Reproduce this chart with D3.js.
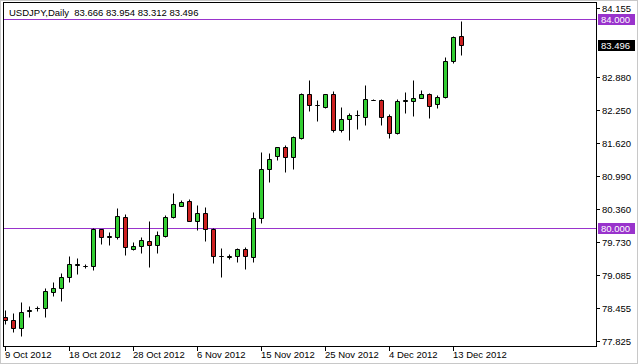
<!DOCTYPE html>
<html>
<head>
<meta charset="utf-8">
<script src="https://cdn.jsdelivr.net/npm/d3@7"></script>
<style>
  body { margin: 0; background: #ffffff; }
  svg { display: block; }
  text { font-family: 'Liberation Sans', Arial, sans-serif; font-size: 9.5px; }
</style>
</head>
<body>
<svg class="chartSvg"></svg>
<script>
let symbol = 'USDJPY,Daily';

let dates = [
  '9 Oct 2012', '10 Oct 2012', '11 Oct 2012', '12 Oct 2012', '14 Oct 2012', '15 Oct 2012', '16 Oct 2012', '17 Oct 2012',
  '18 Oct 2012', '19 Oct 2012', '21 Oct 2012', '22 Oct 2012', '23 Oct 2012', '24 Oct 2012', '25 Oct 2012', '26 Oct 2012',
  '28 Oct 2012', '29 Oct 2012', '30 Oct 2012', '31 Oct 2012', '1 Nov 2012', '2 Nov 2012', '4 Nov 2012', '5 Nov 2012',
  '6 Nov 2012', '7 Nov 2012', '8 Nov 2012', '9 Nov 2012', '11 Nov 2012', '12 Nov 2012', '13 Nov 2012', '14 Nov 2012',
  '15 Nov 2012', '16 Nov 2012', '18 Nov 2012', '19 Nov 2012', '20 Nov 2012', '21 Nov 2012', '22 Nov 2012', '23 Nov 2012',
  '25 Nov 2012', '26 Nov 2012', '27 Nov 2012', '28 Nov 2012', '29 Nov 2012', '30 Nov 2012', '2 Dec 2012', '3 Dec 2012',
  '4 Dec 2012', '5 Dec 2012', '6 Dec 2012', '7 Dec 2012', '9 Dec 2012', '10 Dec 2012', '11 Dec 2012', '12 Dec 2012',
  '13 Dec 2012', '14 Dec 2012'
];

let open = [
  78.289, 78.222, 78.069, 78.398, 78.452, 78.456, 78.774, 78.839, 79.050, 79.291,
  79.261, 79.257, 79.969, 79.835, 79.828, 80.195, 79.586, 79.644, 79.751, 79.659,
  79.847, 80.199, 80.416, 80.512, 80.134, 80.276, 79.975, 79.464, 79.444, 79.458,
  79.586, 79.429, 80.180, 81.119, 81.374, 81.540, 81.349, 81.713, 82.556, 82.356,
  82.318, 82.556, 81.862, 82.077, 82.153, 82.111, 82.441, 82.446, 82.134, 81.820,
  82.427, 82.433, 82.490, 82.556, 82.364, 82.510, 83.199, 83.666
];
let high = [
  78.423, 78.360, 78.571, 78.500, 78.490, 78.851, 78.954, 79.126, 79.458, 79.423,
  79.305, 79.985, 79.981, 79.923, 80.377, 80.253, 79.726, 79.828, 80.128, 79.937,
  80.243, 80.671, 80.531, 80.544, 80.429, 80.397, 79.985, 79.605, 79.492, 79.605,
  79.625, 80.291, 81.456, 81.437, 81.546, 81.579, 81.757, 82.575, 82.830, 82.446,
  82.567, 82.619, 82.312, 82.197, 82.255, 82.734, 82.456, 82.460, 82.178, 82.460,
  82.605, 82.830, 82.638, 82.575, 82.542, 83.276, 83.672, 83.954
];
let low = [
  78.155, 78.008, 77.931, 78.295, 78.395, 78.295, 78.697, 78.602, 78.966, 79.119,
  79.222, 79.190, 79.688, 79.669, 79.784, 79.477, 79.579, 79.510, 79.253, 79.510,
  79.816, 80.180, 80.410, 80.128, 79.956, 79.745, 79.314, 79.061, 79.397, 79.333,
  79.203, 79.343, 80.096, 80.881, 81.297, 81.073, 81.119, 81.694, 82.241, 82.050,
  82.287, 81.839, 81.833, 81.671, 81.897, 81.967, 82.437, 81.967, 81.713, 81.795,
  82.192, 82.140, 82.485, 82.096, 82.287, 82.479, 83.161, 83.312
];
let close = [
  78.222, 78.069, 78.391, 78.418, 78.462, 78.787, 78.839, 79.050, 79.299, 79.305,
  79.266, 79.969, 79.816, 79.822, 80.218, 79.621, 79.644, 79.759, 79.659, 79.851,
  80.199, 80.448, 80.487, 80.134, 80.276, 79.969, 79.464, 79.452, 79.448, 79.586,
  79.458, 80.180, 81.119, 81.310, 81.540, 81.349, 81.732, 82.556, 82.351, 82.345,
  82.556, 81.866, 82.077, 82.159, 82.165, 82.460, 82.450, 82.126, 81.820, 82.427,
  82.441, 82.479, 82.556, 82.337, 82.510, 83.199, 83.650, 83.496
];

let priceTicks = [84.155, 82.880, 82.250, 81.620, 80.990, 80.360, 79.730, 79.085, 78.455, 77.825];
let levels = [84.0, 80.0];

let width = 638;
let height = 364;
let frame = { left: 3, right: 596, top: 2, bottom: 346 };
let upColor = '#32cd32';
let downColor = '#cc2020';
let levelColor = '#9933cc';
let fmt = d3.format('.3f');

let bars = dates.map((d, i) => ({
  date: d, o: open[i], h: high[i], l: low[i], c: close[i], i: i
}));

let svg = d3.select('.chartSvg').attr('width', width).attr('height', height);

// x: one slot per bar, 8px apart
let x = d3.scalePoint().domain(dates).range([5, 461]);
let y = d3.scaleLinear()
  .domain([d3.min(priceTicks), d3.max(priceTicks)])
  .range([341.2, 10.8]);
// snap to pixel centre for crisp 1px lines
const py = (v) => Math.round(y(v)) + 0.5;

svg.append('rect')
  .attr('x', 0.5).attr('y', 0.5)
  .attr('width', width - 1).attr('height', height - 1)
  .attr('fill', '#ffffff')
  .attr('stroke', '#c8c8c8');

svg.append('clipPath').attr('id', 'plotClip')
  .append('rect')
  .attr('x', frame.left + 1).attr('y', frame.top + 1)
  .attr('width', frame.right - frame.left - 1)
  .attr('height', frame.bottom - frame.top - 1);

let plot = svg.append('g').attr('clip-path', 'url(#plotClip)');

// level lines
plot.selectAll('.level')
  .data(levels)
  .enter()
  .append('line')
  .classed('level', true)
  .attr('x1', frame.left).attr('x2', frame.right)
  .attr('y1', (d) => py(d)).attr('y2', (d) => py(d))
  .attr('stroke', levelColor);

// candles
let candle = plot.selectAll('.candle')
  .data(bars)
  .enter()
  .append('g')
  .classed('candle', true);

candle.append('line')
  .attr('x1', (d) => x(d.date) + 0.5).attr('x2', (d) => x(d.date) + 0.5)
  .attr('y1', (d) => py(d.h)).attr('y2', (d) => py(d.l))
  .attr('stroke', '#000000');

candle.append('path')
  .attr('d', (d) => {
    let cx = x(d.date);
    let top = py(Math.max(d.o, d.c));
    let bot = py(Math.min(d.o, d.c));
    return `M${cx - 1.5},${top}H${cx + 2.5}V${bot}H${cx - 1.5}Z`;
  })
  .attr('fill', (d) => (d.c >= d.o ? upColor : downColor))
  .attr('stroke', '#000000');

// frame
svg.append('rect')
  .attr('x', frame.left + 0.5).attr('y', frame.top + 0.5)
  .attr('width', frame.right - frame.left)
  .attr('height', frame.bottom - frame.top)
  .attr('fill', 'none')
  .attr('stroke', '#000000');

// price scale on the right (top label sits at the top edge, like the terminal)
let topTick = d3.max(priceTicks);
let priceAxis = svg.append('g').classed('price-axis', true);
priceTicks.forEach((v) => {
  let ty = v === topTick ? frame.top + 6.5 : py(v);
  priceAxis.append('line')
    .attr('x1', frame.right + 1).attr('x2', frame.right + 4)
    .attr('y1', ty).attr('y2', ty)
    .attr('stroke', '#000000');
  priceAxis.append('text')
    .attr('x', frame.right + 6)
    .attr('y', ty + 3.5)
    .attr('fill', '#000000')
    .text(fmt(v));
});

// price tags: levels in purple, last close in black
let tags = levels.map((v) => ({ v: v, fill: levelColor }));
tags.push({ v: close[close.length - 1], fill: '#000000' });

let tag = svg.selectAll('.tag')
  .data(tags)
  .enter()
  .append('g')
  .classed('tag', true);

tag.append('rect')
  .attr('x', frame.right + 2)
  .attr('y', (d) => Math.round(y(d.v)) - 5)
  .attr('width', 37)
  .attr('height', 11)
  .attr('fill', (d) => d.fill);

tag.append('text')
  .attr('x', frame.right + 5)
  .attr('y', (d) => Math.round(y(d.v)) + 4)
  .attr('fill', '#ffffff')
  .text((d) => fmt(d.v));

// date scale at the bottom, every 8th bar
let dateTicks = dates.filter((d, i) => i % 8 === 0);
let dateAxis = svg.append('g').classed('date-axis', true);
dateTicks.forEach((d) => {
  dateAxis.append('line')
    .attr('x1', x(d) + 0.5).attr('x2', x(d) + 0.5)
    .attr('y1', frame.bottom + 1).attr('y2', frame.bottom + 5)
    .attr('stroke', '#000000');
  dateAxis.append('text')
    .attr('x', x(d))
    .attr('y', frame.bottom + 12)
    .attr('fill', '#000000')
    .text(d);
});

// title with last bar OHLC
let last = bars[bars.length - 1];
svg.append('text')
  .attr('x', 9)
  .attr('y', 16)
  .attr('fill', '#000000')
  .attr('xml:space', 'preserve')
  .text(`${symbol}  ${fmt(last.o)} ${fmt(last.h)} ${fmt(last.l)} ${fmt(last.c)}`);
</script>
</body>
</html>
